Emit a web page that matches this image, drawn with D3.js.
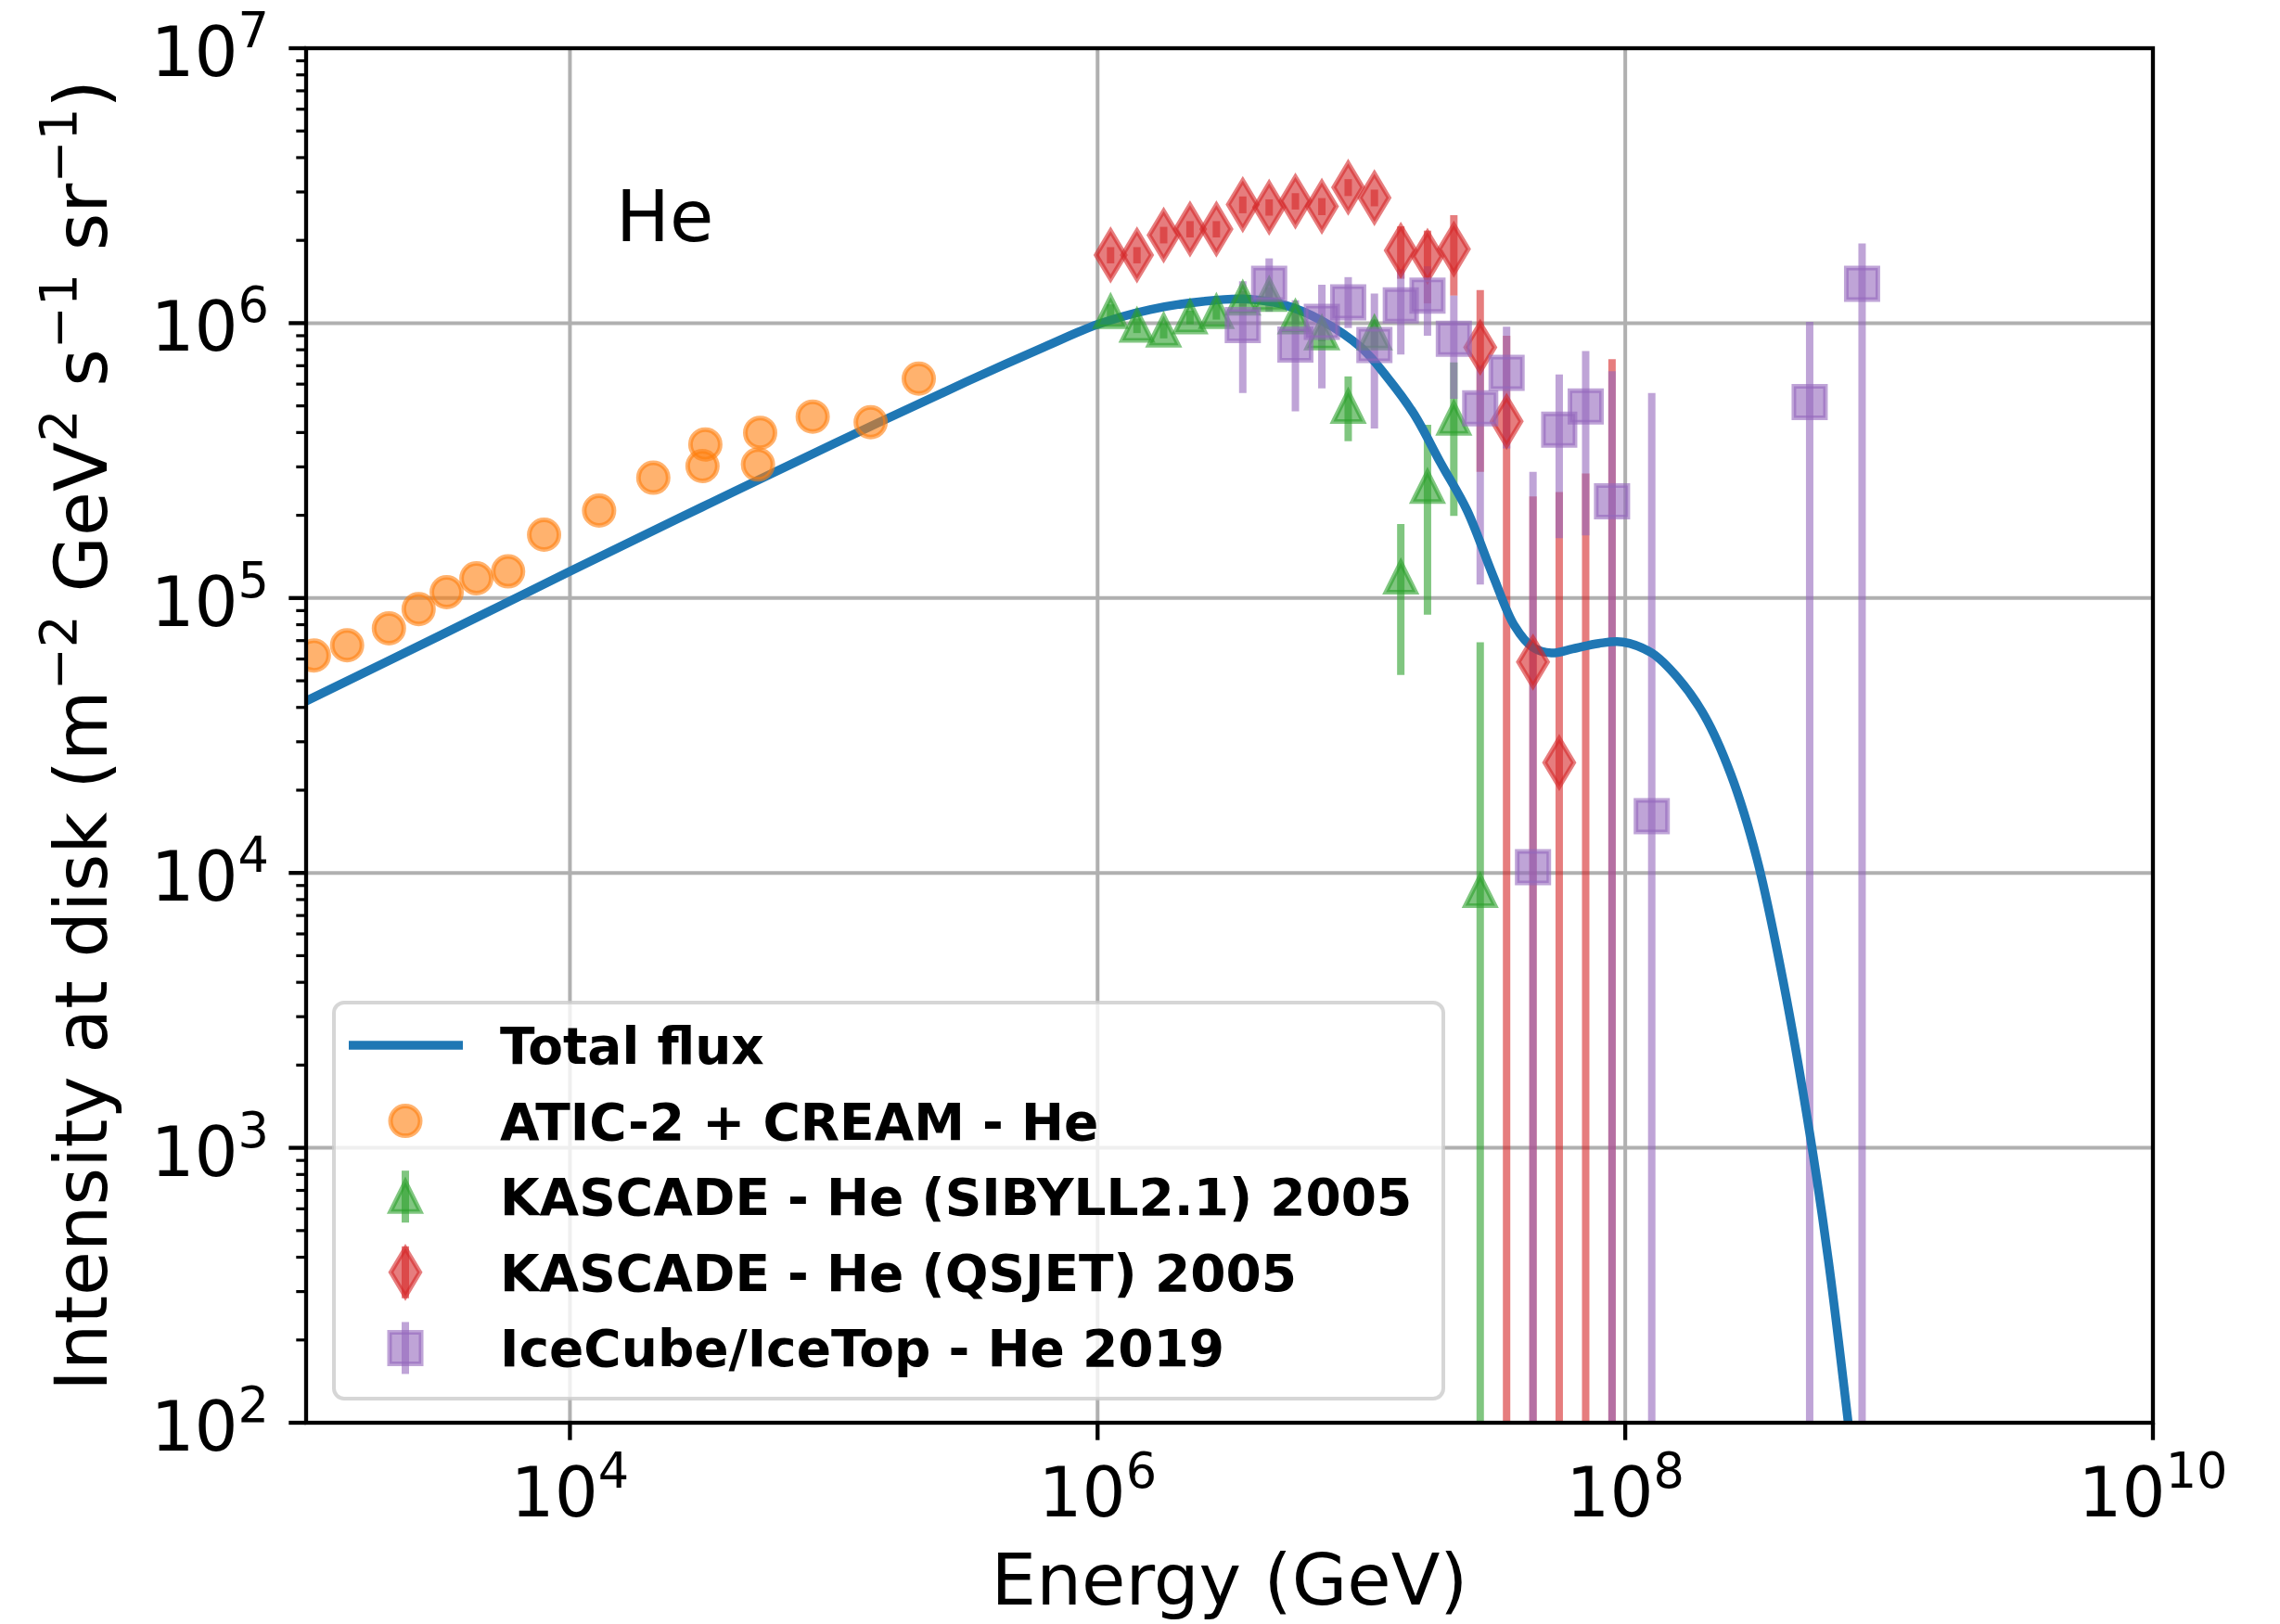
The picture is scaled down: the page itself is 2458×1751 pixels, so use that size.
<!DOCTYPE html>
<html>
<head>
<meta charset="utf-8">
<script src="https://cdn.jsdelivr.net/npm/d3@7"></script>
<style>
  html, body { margin: 0; padding: 0; background: #fff; }
  svg { display: block; font-family: "DejaVu Sans", sans-serif; }
</style>
</head>
<body>
<div id="chart"></div>
<script>
// model curve
const totalE = [1e3, 3.16e3, 1e4, 3.16e4, 1e5, 3.16e5, 6.31e5, 1e6, 1.58e6, 2.51e6, 3.55e6, 5.01e6, 7.08e6, 1e7,
  1.26e7, 1.58e7, 2.0e7, 2.51e7, 3.16e7, 3.8e7, 4.47e7, 5.25e7, 6.31e7, 7.94e7, 9.77e7, 1.26e8, 1.58e8, 2.0e8,
  2.51e8, 3.16e8, 3.98e8, 5.01e8, 5.89e8, 7.0e8];
const totalI = [4.22e4, 7.24e4, 1.25e5, 2.14e5, 3.64e5, 6.1e5, 8.2e5, 9.89e5, 1.12e6, 1.2e6, 1.225e6, 1.17e6, 1.02e6, 8.13e5,
  6.31e5, 4.68e5, 3.09e5, 2.09e5, 1.2e5, 7.94e4, 6.61e4, 6.31e4, 6.53e4, 6.84e4, 6.92e4, 6.31e4, 5.13e4, 3.72e4,
  2.29e4, 1.12e4, 3.98e3, 1.12e3, 389, 100];

// ATIC-2 + CREAM
const aticE = [1.07e3, 1.43e3, 2.06e3, 2.67e3, 3.41e3, 4.42e3, 5.83e3, 7.98e3, 1.29e4, 2.07e4, 3.18e4, 3.26e4, 5.16e4, 5.26e4, 8.32e4, 1.38e5, 2.1e5];
const aticI = [6.18e4, 6.73e4, 7.76e4, 9.12e4, 1.05e5, 1.18e5, 1.25e5, 1.70e5, 2.08e5, 2.74e5, 3.02e5, 3.62e5, 3.06e5, 3.99e5, 4.57e5, 4.36e5, 6.28e5];

// KASCADE SIBYLL 2.1
const sibyllE = [1.12e6, 1.41e6, 1.78e6, 2.24e6, 2.82e6, 3.55e6, 4.47e6, 5.62e6, 7.08e6, 8.91e6, 1.12e7, 1.41e7, 1.78e7, 2.24e7, 2.82e7];
const sibyllI = [1.10e6, 9.8e5, 9.4e5, 1.05e6, 1.10e6, 1.23e6, 1.27e6, 1.05e6, 9.2e5, 4.97e5, 9.2e5, 1.19e5, 2.54e5, 4.5e5, 8.6e3];
const sibyllLo = [1.03e6, 9.2e5, 8.8e5, 9.9e5, 1.03e6, 1.15e6, 1.19e6, 9.9e5, 8.6e5, 3.72e5, 8.2e5, 5.25e4, 8.7e4, 1.99e5, 0];
const sibyllHi = [1.17e6, 1.04e6, 1.0e6, 1.11e6, 1.17e6, 1.31e6, 1.35e6, 1.11e6, 9.8e5, 6.4e5, 1.03e6, 1.86e5, 4.27e5, 7.2e5, 6.9e4];

// KASCADE QGSJET (last two points fall below the plot)
const qgsjetE = [1.12e6, 1.41e6, 1.78e6, 2.24e6, 2.82e6, 3.55e6, 4.47e6, 5.62e6, 7.08e6, 8.91e6, 1.12e7, 1.41e7, 1.78e7, 2.24e7,
  2.82e7, 3.55e7, 4.47e7, 5.62e7, 7.08e7, 8.91e7];
const qgsjetI = [1.77e6, 1.77e6, 2.09e6, 2.20e6, 2.20e6, 2.70e6, 2.64e6, 2.78e6, 2.66e6, 3.12e6, 2.86e6, 1.84e6, 1.75e6, 1.86e6,
  8.17e5, 4.39e5, 5.85e4, 2.52e4, null, null];
const qgsjetLo = [1.65e6, 1.65e6, 1.95e6, 2.05e6, 2.05e6, 2.51e6, 2.46e6, 2.59e6, 2.47e6, 2.90e6, 2.66e6, 1.45e6, 1.18e6, 1.26e6,
  2.88e5, 0, 0, 0, 0, 0];
const qgsjetHi = [1.89e6, 1.89e6, 2.24e6, 2.35e6, 2.35e6, 2.89e6, 2.82e6, 2.97e6, 2.85e6, 3.34e6, 3.06e6, 2.25e6, 2.17e6, 2.47e6,
  1.32e6, 9.0e5, 2.34e5, 2.43e5, 2.84e5, 7.4e5];

// IceCube/IceTop 2019
const icetopE = [3.55e6, 4.47e6, 5.62e6, 7.08e6, 8.91e6, 1.12e7, 1.41e7, 1.78e7, 2.24e7, 2.82e7, 3.55e7, 4.47e7, 5.62e7, 7.08e7,
  8.91e7, 1.26e8, 5.0e8, 7.9e8];
const icetopI = [9.84e5, 1.39e6, 8.36e5, 1.01e6, 1.19e6, 8.32e5, 1.16e6, 1.26e6, 8.77e5, 4.90e5, 6.59e5, 1.05e4, 4.10e5, 4.98e5,
  2.25e5, 1.61e4, 5.16e5, 1.39e6];
const icetopLo = [5.57e5, 1.10e6, 4.78e5, 5.79e5, 9.6e5, 4.14e5, 7.69e5, 9.0e5, 5.3e5, 1.12e5, 3.5e5, 0, 1.65e5, 1.69e5,
  0, 0, 0, 0];
const icetopHi = [1.42e6, 1.72e6, 1.21e6, 1.38e6, 1.47e6, 1.28e6, 1.57e6, 1.61e6, 1.26e6, 7.03e5, 9.7e5, 2.88e5, 6.5e5, 7.91e5,
  6.68e5, 5.57e5, 1.01e6, 1.95e6];

const xTicks = [1e4, 1e6, 1e8, 1e10];
const yTicks = [1e2, 1e3, 1e4, 1e5, 1e6, 1e7];
const legendLabels = ["Total flux", "ATIC-2 + CREAM - He", "KASCADE - He (SIBYLL2.1) 2005",
  "KASCADE - He (QSJET) 2005", "IceCube/IceTop - He 2019"];

const width = 2458;
const height = 1751;
const margin = { top: 52, right: 137, bottom: 217, left: 330 };

const colors = { line: "#1f77b4", atic: "#ff7f0e", sib: "#2ca02c", qgs: "#d62728", ice: "#9467bd" };

const svg = d3.select("#chart")
  .append("svg")
  .attr("width", width)
  .attr("height", height)
  .style("background", "#fff");

const x = d3.scaleLog().domain([1e3, 1e10]).range([margin.left, width - margin.right]);
const y = d3.scaleLog().domain([1e2, 1e7]).range([height - margin.bottom, margin.top]);
const x0 = margin.left, x1 = width - margin.right, y0 = height - margin.bottom, y1 = margin.top;

svg.append("clipPath").attr("id", "plotclip")
  .append("rect")
  .attr("x", x0).attr("y", y1)
  .attr("width", x1 - x0).attr("height", y0 - y1);

// grid
const grid = svg.append("g").attr("stroke", "#b0b0b0").attr("stroke-width", 4);
xTicks.forEach(v => grid.append("line").attr("x1", x(v)).attr("x2", x(v)).attr("y1", y1).attr("y2", y0));
yTicks.forEach(v => grid.append("line").attr("x1", x0).attr("x2", x1).attr("y1", y(v)).attr("y2", y(v)));

const plot = svg.append("g").attr("clip-path", "url(#plotclip)");

const yc = v => y(Math.max(v, 10));

// error bars first (they sit under the curve)
function errBars(es, lo, hi, color) {
  plot.append("g").selectAll("line")
    .data(es.map((e, i) => ({ e, lo: lo[i], hi: hi[i] })))
    .enter()
    .append("line")
    .attr("x1", d => x(d.e)).attr("x2", d => x(d.e))
    .attr("y1", d => yc(d.lo)).attr("y2", d => yc(d.hi))
    .attr("stroke", color)
    .attr("stroke-opacity", 0.6)
    .attr("stroke-width", 8);
}
errBars(sibyllE, sibyllLo, sibyllHi, colors.sib);
errBars(qgsjetE, qgsjetLo, qgsjetHi, colors.qgs);
errBars(icetopE, icetopLo, icetopHi, colors.ice);

// total flux
const line = d3.line()
  .x(d => x(d[0]))
  .y(d => y(d[1]))
  .curve(d3.curveCatmullRom.alpha(0.5));

plot.append("path")
  .datum(totalE.map((e, i) => [e, totalI[i]]))
  .attr("d", line)
  .attr("fill", "none")
  .attr("stroke", colors.line)
  .attr("stroke-width", 9.5)
  .attr("stroke-linejoin", "round");

const shapes = {
  circle: s => `M${s},0A${s},${s} 0 1,1 ${-s},0A${s},${s} 0 1,1 ${s},0Z`,
  triangle: s => `M0,${-s}L${s},${s}L${-s},${s}Z`,
  diamond: s => `M0,${-s}L${0.6 * s},0L0,${s}L${-0.6 * s},0Z`,
  square: s => `M${-s},${-s}H${s}V${s}H${-s}Z`
};
const markerSize = { circle: 16, triangle: 16, diamond: 26, square: 17 };

function markers(es, vs, shape, color) {
  plot.append("g").selectAll("path")
    .data(es.map((e, i) => ({ e, v: vs[i] })).filter(d => d.v !== null))
    .enter()
    .append("path")
    .attr("transform", d => `translate(${x(d.e)},${y(d.v)})`)
    .attr("d", shapes[shape](markerSize[shape]))
    .attr("fill", color)
    .attr("fill-opacity", 0.6)
    .attr("stroke", color)
    .attr("stroke-opacity", 0.6)
    .attr("stroke-width", 5);
}
markers(aticE, aticI, "circle", colors.atic);
markers(sibyllE, sibyllI, "triangle", colors.sib);
markers(qgsjetE, qgsjetI, "diamond", colors.qgs);
markers(icetopE, icetopI, "square", colors.ice);

// frame
svg.append("rect")
  .attr("x", x0).attr("y", y1)
  .attr("width", x1 - x0).attr("height", y0 - y1)
  .attr("fill", "none")
  .attr("stroke", "#000")
  .attr("stroke-width", 4.3);

// y ticks (major + log minors)
const yAxis = svg.append("g").attr("stroke", "#000");
y.ticks().forEach(v => {
  const major = Math.abs(Math.log10(v) - Math.round(Math.log10(v))) < 1e-9;
  yAxis.append("line")
    .attr("x1", x0 - (major ? 18.7 : 10.7)).attr("x2", x0)
    .attr("y1", y(v)).attr("y2", y(v))
    .attr("stroke-width", major ? 4.3 : 3.2);
});

function powLabel(text, v, size) {
  text.append("tspan").text("10");
  text.append("tspan")
    .attr("dy", -0.42 * size)
    .style("font-size", (0.71 * size) + "px")
    .text(Math.round(Math.log10(v)));
}

yTicks.forEach(v => {
  const t = svg.append("text")
    .attr("x", x0 - 40)
    .attr("y", y(v) + 30)
    .attr("text-anchor", "end")
    .style("font-size", "74px")
    .attr("fill", "#000");
  powLabel(t, v, 74);
});

xTicks.forEach(v => {
  svg.append("line")
    .attr("x1", x(v)).attr("x2", x(v))
    .attr("y1", y0).attr("y2", y0 + 18.7)
    .attr("stroke", "#000").attr("stroke-width", 4.3);
  const t = svg.append("text")
    .attr("x", x(v))
    .attr("y", y0 + 101)
    .attr("text-anchor", "middle")
    .style("font-size", "74px")
    .attr("fill", "#000");
  powLabel(t, v, 74);
});

// axis labels
svg.append("text")
  .attr("x", (x0 + x1) / 2)
  .attr("y", 1730)
  .attr("text-anchor", "middle")
  .style("font-size", "77px")
  .text("Energy (GeV)");

const ylab = svg.append("text")
  .attr("transform", `translate(115, ${(y0 + y1) / 2}) rotate(-90)`)
  .attr("text-anchor", "middle")
  .style("font-size", "78px");
const ylabParts = [["Intensity at disk (m", 0], ["\u22122", 1], [" GeV", 0], ["2", 1], [" s", 0], ["\u22121", 1], [" sr", 0], ["\u22121", 1], [")", 0]];
let raised = false;
ylabParts.forEach(([s, sup]) => {
  const ts = ylab.append("tspan").text(s);
  if (sup && !raised) { ts.attr("dy", -33).style("font-size", "55px"); raised = true; }
  else if (!sup && raised) { ts.attr("dy", 33); raised = false; }
});

// element annotation
svg.append("text")
  .attr("x", 664)
  .attr("y", 260)
  .style("font-size", "77px")
  .text("He");

// legend
const legend = svg.append("g");
legend.append("rect")
  .attr("x", 360).attr("y", 1081)
  .attr("width", 1196).attr("height", 427)
  .attr("rx", 11)
  .attr("fill", "#fff").attr("fill-opacity", 0.8)
  .attr("stroke", "#cccccc").attr("stroke-opacity", 0.8)
  .attr("stroke-width", 4);

const legendKinds = [
  { type: "line", color: colors.line },
  { type: "circle", color: colors.atic, bar: false },
  { type: "triangle", color: colors.sib, bar: true },
  { type: "diamond", color: colors.qgs, bar: true },
  { type: "square", color: colors.ice, bar: true }
];

legendLabels.forEach((label, i) => {
  const cy = 1127 + i * 81.6;
  const k = legendKinds[i];
  const lg = legend.append("g");
  if (k.type === "line") {
    lg.append("line")
      .attr("x1", 376).attr("x2", 499)
      .attr("y1", cy).attr("y2", cy)
      .attr("stroke", k.color).attr("stroke-width", 9.5);
  } else {
    if (k.bar) {
      lg.append("line")
        .attr("x1", 437).attr("x2", 437)
        .attr("y1", cy - 28).attr("y2", cy + 28)
        .attr("stroke", k.color).attr("stroke-opacity", 0.6)
        .attr("stroke-width", 8);
    }
    lg.append("path")
      .attr("transform", `translate(437,${cy})`)
      .attr("d", shapes[k.type](markerSize[k.type]))
      .attr("fill", k.color).attr("fill-opacity", 0.6)
      .attr("stroke", k.color).attr("stroke-opacity", 0.6)
      .attr("stroke-width", 5);
  }
  lg.append("text")
    .attr("x", 539)
    .attr("y", cy + 20)
    .style("font-size", "55px")
    .style("font-weight", "bold")
    .text(label);
});
</script>
</body>
</html>
